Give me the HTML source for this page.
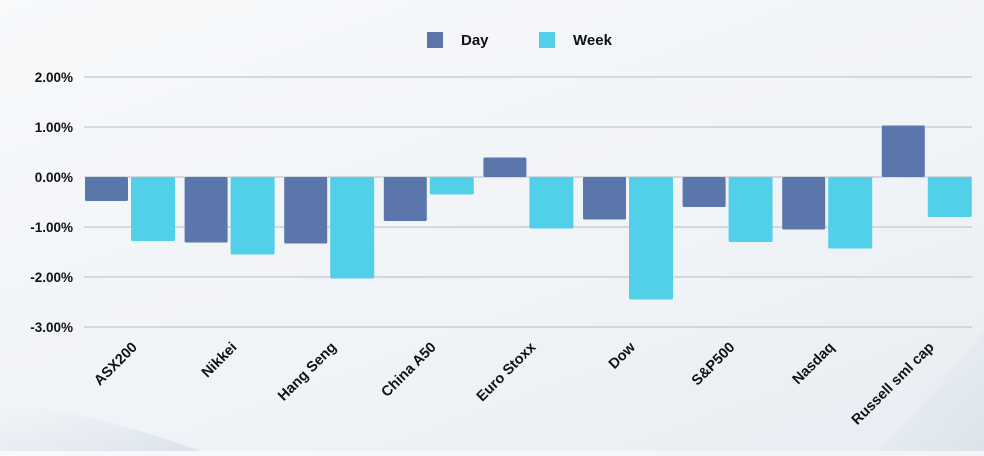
<!DOCTYPE html>
<html><head><style>
html,body{margin:0;padding:0;}
body{width:984px;height:451px;overflow:hidden;background:linear-gradient(160deg,#f7f9fb 0%,#f0f3f7 60%,#e8edf3 100%);font-family:"Liberation Sans",sans-serif;}
</style></head><body>
<svg width="984" height="451" xmlns="http://www.w3.org/2000/svg" font-family="Liberation Sans, sans-serif">
<defs><linearGradient id="g" x1="0" y1="0" x2="1" y2="1"><stop offset="0" stop-color="#dbe3ec" stop-opacity="0"/><stop offset="1" stop-color="#c9d4e0"/></linearGradient></defs>
<path d="M0 400 Q120 420 200 451 L0 451Z" fill="url(#g)" opacity="0.5"/>
<path d="M984 330 Q930 400 880 451 L984 451Z" fill="url(#g)" opacity="0.4"/>
<rect x="427" y="32" width="16" height="16" fill="#5b76aa"/>
<text x="461" y="45" font-size="15" font-weight="bold" fill="#111">Day</text>
<rect x="539" y="32" width="16" height="16" fill="#52d0ea"/>
<text x="573" y="45" font-size="15" font-weight="bold" fill="#111">Week</text>
<g stroke="#c4c8cd" stroke-width="1.2">
<line x1="84" x2="972" y1="77" y2="77"/><line x1="84" x2="972" y1="127" y2="127"/><line x1="84" x2="972" y1="177" y2="177"/><line x1="84" x2="972" y1="227" y2="227"/><line x1="84" x2="972" y1="277" y2="277"/><line x1="84" x2="972" y1="327" y2="327"/>
</g>
<g font-size="13.5" font-weight="bold" fill="#111" text-anchor="end">
<text x="73" y="82">2.00%</text><text x="73" y="132">1.00%</text><text x="73" y="182">0.00%</text><text x="73" y="232">-1.00%</text><text x="73" y="282">-2.00%</text><text x="73" y="332">-3.00%</text>
</g>
<g id="bars"></g>
<g id="labels" font-size="14.5" font-weight="bold" fill="#111" text-anchor="end"></g>
<script>
var d=[["ASX200",-0.48,-1.28],["Nikkei",-1.31,-1.55],["Hang Seng",-1.33,-2.03],["China A50",-0.88,-0.35],["Euro Stoxx",0.39,-1.03],["Dow",-0.85,-2.45],["S&P500",-0.6,-1.3],["Nasdaq",-1.05,-1.43],["Russell sml cap",1.03,-0.8]];
var ns="http://www.w3.org/2000/svg",b=document.getElementById("bars"),l=document.getElementById("labels");
function r(x,v,w,c){var e=document.createElementNS(ns,"rect");var y=177-v*50;e.setAttribute("x",x);e.setAttribute("width",w);e.setAttribute("y",Math.min(y,177));e.setAttribute("height",Math.abs(v*50));e.setAttribute("fill",c);e.setAttribute("rx",1.5);b.appendChild(e);}
d.forEach(function(a,i){var s=85+i*99.6;r(s,a[1],43,"#5b76aa");r(s+46,a[2],44,"#52d0ea");
var t=document.createElementNS(ns,"text");var cx=s+53,cy=348;t.setAttribute("x",cx);t.setAttribute("y",cy);t.setAttribute("transform","rotate(-45 "+cx+" "+cy+")");t.textContent=a[0];l.appendChild(t);});
</script>
</svg>
</body></html>
